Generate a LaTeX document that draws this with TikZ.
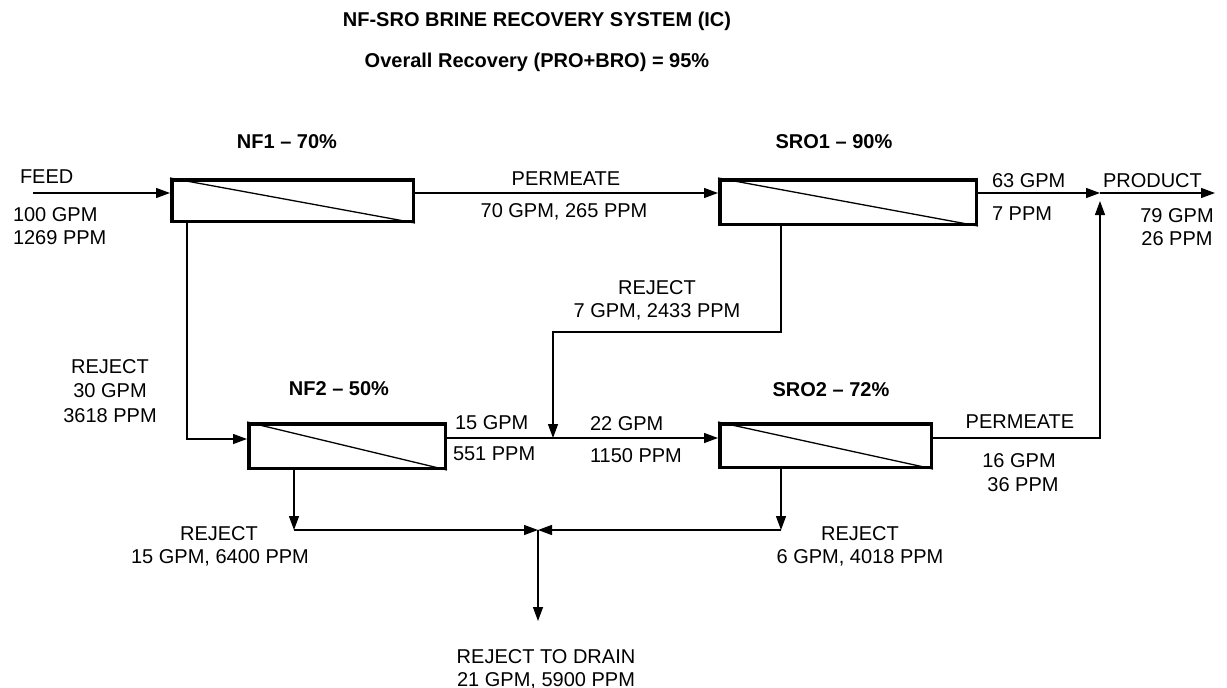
\documentclass[tikz,border=0pt]{standalone}
\usepackage{fontspec}
\setmainfont{Liberation Sans}
\usetikzlibrary{arrows.meta}
\begin{document}
\begin{tikzpicture}[x=1pt,y=-1pt,
  lbl/.style={font=\fontsize{20}{23}\selectfont, anchor=base, inner sep=0pt, outer sep=0pt},
  lbll/.style={lbl, anchor=base west},
  ttl/.style={lbl, font=\fontsize{20}{23}\selectfont\bfseries},
  unit/.style={draw, line width=3.5pt, inner sep=0pt},
  diag/.style={line width=1.3pt},
  arr/.style={line width=1.3pt, -{Triangle[length=14pt,width=10pt]}},
  ln/.style={line width=1.3pt}]
\useasboundingbox (0,0) rectangle (1227,688);
% titles
\node[ttl] (t1) at (537,27) {NF-SRO BRINE RECOVERY SYSTEM (IC)};
\node[ttl] (t2) at (537,67) {Overall Recovery (PRO+BRO) = 95\%};
% units
\node[unit, minimum width=241.5pt, minimum height=41.5pt] (nf1) at (292.5,200.5) {};
\node[unit, minimum width=256.5pt, minimum height=44.5pt] (sro1) at (848,202) {};
\node[unit, minimum width=196.5pt, minimum height=44.5pt] (nf2) at (347,446) {};
\node[unit, minimum width=211.5pt, minimum height=43.5pt] (sro2) at (825.5,445.5) {};
\foreach \u in {nf1,sro1,nf2,sro2} \draw[diag] (\u.north west) -- (\u.south east);
% unit labels
\node[ttl] (nf1l) at (287,148) {NF1 – 70\%};
\node[ttl] (sro1l) at (834,148) {SRO1 – 90\%};
\node[ttl] (nf2l) at (339,395) {NF2 – 50\%};
\node[ttl] (sro2l) at (831,396) {SRO2 – 72\%};
% coordinates
\coordinate (feedin) at (33,193);
\coordinate (pj) at (1100,193);
\coordinate (prodout) at (1215,193);
\coordinate (pcorner) at (1100,438);
\coordinate (pjlow) at (1100,201);
\coordinate (r1a) at (781,332);
\coordinate (r1b) at (553,332);
\coordinate (mix) at (553,438);
\coordinate (r0) at (187,439);
\coordinate (r2) at (294,530);
\coordinate (r3) at (781,530);
\coordinate (drainj) at (538,530);
\coordinate (drain) at (538,621);
% connectors
\draw[arr] (feedin) -- (feedin -| nf1.west);
\draw[arr] (nf1.east |- feedin) -- (sro1.west |- feedin);
\draw[arr] (sro1.east |- pj) -- (pj);
\draw[arr] (pj) -- (prodout);
\draw[arr] (sro2.east |- pcorner) -- (pcorner) -- (pjlow);
\draw[arr] (sro1.south -| r1a) -- (r1a) -- (r1b) -- (mix);
\draw[arr] (nf2.east |- mix) -- (sro2.west |- mix);
\draw[arr] (nf1.south -| r0) -- (r0) -- (nf2.west |- r0);
\draw[arr] (nf2.south -| r2) -- (r2);
\draw[arr] (r2) -- (drainj);
\draw[arr] (sro2.south -| r3) -- (r3);
\draw[arr] (r3) -- (drainj);
\draw[arr] (drainj) -- (drain);
% stream labels
\node[lbll] (feed) at (20,183) {FEED};
\node[lbll] (feedq) at (13,221) {100 GPM};
\node[lbll] (feedc) at (13,244) {1269 PPM};
\node[lbl] (perm1) at (566,185) {PERMEATE};
\node[lbl] (perm1q) at (564,217) {70 GPM, 265 PPM};
\node[lbll] (p1q) at (992,187) {63 GPM};
\node[lbll] (p1c) at (992,220) {7 PPM};
\node[lbll] (prod) at (1103,187) {PRODUCT};
\node[lbl] (prodq) at (1177,222) {79 GPM};
\node[lbl] (prodc) at (1177,245) {26 PPM};
\node[lbl] (rj1) at (657,294) {REJECT};
\node[lbl] (rj1q) at (657,317) {7 GPM, 2433 PPM};
\node[lbl] (rj0) at (110,373) {REJECT};
\node[lbl] (rj0q) at (110,397) {30 GPM};
\node[lbl] (rj0c) at (110,422) {3618 PPM};
\node[lbll] (n2q) at (455,429) {15 GPM};
\node[lbll] (n2c) at (453,460) {551 PPM};
\node[lbll] (mq) at (590,430) {22 GPM};
\node[lbll] (mc) at (590,462) {1150 PPM};
\node[lbl] (perm2) at (1020,428) {PERMEATE};
\node[lbl] (perm2q) at (1019,467) {16 GPM};
\node[lbl] (perm2c) at (1023,491) {36 PPM};
\node[lbl] (rj2) at (219,540) {REJECT};
\node[lbl] (rj2q) at (220,563) {15 GPM, 6400 PPM};
\node[lbl] (rj3) at (860,540) {REJECT};
\node[lbl] (rj3q) at (860,563) {6 GPM, 4018 PPM};
\node[lbl] (dr) at (546,663) {REJECT TO DRAIN};
\node[lbl] (drq) at (546,686) {21 GPM, 5900 PPM};
\end{tikzpicture}
\end{document}
